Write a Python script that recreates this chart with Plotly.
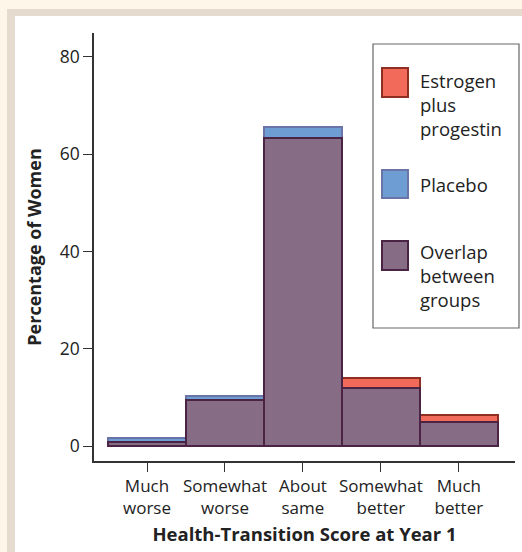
import plotly.graph_objects as go

categories = ["Much<br>worse", "Somewhat<br>worse", "About<br>same", "Somewhat<br>better", "Much<br>better"]
estrogen_progestin = [0.9, 9.5, 63.4, 13.9, 6.4]
placebo = [1.7, 10.3, 65.6, 11.9, 5.0]
overlap = [min(a, b) for a, b in zip(estrogen_progestin, placebo)]
y_ticks = [0, 20, 40, 60, 80]
legend_labels = ["Estrogen<br>plus<br>progestin", "Placebo", "Overlap<br>between<br>groups"]

W, H = 522, 552
ML, MR, MT, MB = 94, 7, 33, 91
PW, PH = W - ML - MR, H - MT - MB

def px(x):
    return (x - ML) / PW

def py(y):
    return (H - MB - y) / PH

FONT = "Open Sans"
TXT = "#222222"
RED, RED_L = "#f26b5a", "#8e2f22"
BLUE, BLUE_L = "#6d9dd3", "#6a74a6"
PURP, PURP_L = "#876c85", "#4a2345"

xs = list(range(len(categories)))
fig = go.Figure()
fig.add_trace(go.Bar(x=xs, y=placebo, marker=dict(color=BLUE, line=dict(color=BLUE_L, width=2)), showlegend=False))
fig.add_trace(go.Bar(x=xs, y=estrogen_progestin, marker=dict(color=RED, line=dict(color=RED_L, width=2)), showlegend=False))
fig.add_trace(go.Bar(x=xs, y=overlap, marker=dict(color=PURP, line=dict(color=PURP_L, width=2)), showlegend=False))

shapes = [
    dict(type="rect", xref="paper", yref="paper", x0=px(7), x1=px(540), y0=py(570), y1=py(9),
         fillcolor="#e5dccf", line=dict(width=0), layer="below"),
    dict(type="rect", xref="paper", yref="paper", x0=px(15), x1=px(540), y0=py(570), y1=py(16),
         fillcolor="#ffffff", line=dict(width=0), layer="below"),
    dict(type="rect", xref="paper", yref="paper", x0=px(373), x1=px(519), y0=py(328), y1=py(44),
         fillcolor="#ffffff", line=dict(color="#666666", width=1.2)),
]
swatches = [(RED, RED_L, 68, 97, 104), (BLUE, BLUE_L, 170, 198, 184), (PURP, PURP_L, 241, 270, 275)]
annotations = []
for (fc, lc, t, b, cy), lab in zip(swatches, legend_labels):
    shapes.append(dict(type="rect", xref="paper", yref="paper", x0=px(382), x1=px(408), y0=py(b), y1=py(t),
                       fillcolor=fc, line=dict(color=lc, width=2)))
    annotations.append(dict(text=lab, xref="paper", yref="paper", x=px(418), y=py(cy), xanchor="left",
                            yanchor="middle", align="left", showarrow=False,
                            font=dict(family=FONT, size=18.5, color=TXT)))

fig.update_layout(
    width=W, height=H,
    margin=dict(l=ML, r=MR, t=MT, b=MB),
    paper_bgcolor="#fef6e9",
    plot_bgcolor="rgba(0,0,0,0)",
    barmode="overlay", bargap=0,
    shapes=shapes, annotations=annotations,
    font=dict(family=FONT, size=17, color=TXT),
    xaxis=dict(range=[-0.68, 4.72], tickmode="array", tickvals=xs, ticktext=categories,
               showline=True, linecolor="#333333", linewidth=1.5, ticks="outside", ticklen=9,
               tickcolor="#333333", showgrid=False, zeroline=False,
               tickfont=dict(family=FONT, size=17, color=TXT),
               title=dict(text="<b>Health-Transition Score at Year 1</b>", standoff=10,
                          font=dict(family=FONT, size=18.5, color=TXT))),
    yaxis=dict(range=[-3.08, 84.9], tickmode="array", tickvals=y_ticks,
               showline=True, linecolor="#333333", linewidth=1.5, ticks="outside", ticklen=9,
               tickcolor="#333333", showgrid=False, zeroline=False,
               tickfont=dict(family=FONT, size=17.5, color=TXT),
               title=dict(text="<b>Percentage of Women</b>", standoff=13,
                          font=dict(family=FONT, size=18, color=TXT))),
)
fig.write_html("out.html", config={"displayModeBar": False},
               post_script="document.body.style.margin='0';document.body.style.background='#fef6e9';")
